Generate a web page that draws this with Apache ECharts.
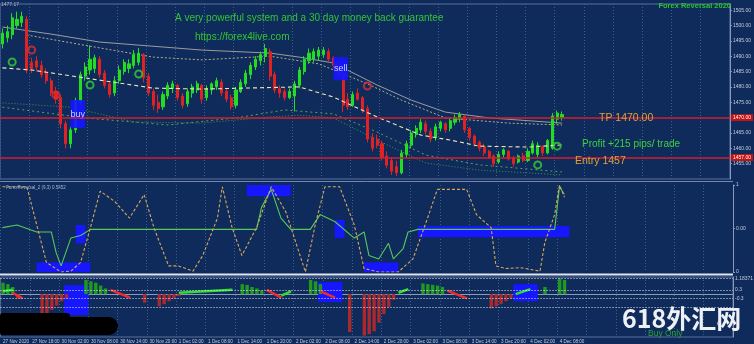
<!DOCTYPE html>
<html><head><meta charset="utf-8">
<script src="https://cdn.jsdelivr.net/npm/echarts@6/dist/echarts.min.js"></script>
<style>html,body{margin:0;padding:0;background:#0e2b5c}#c{width:754px;height:344px}</style>
</head><body><div id="c"></div>
<script>
// ---- price bars: [open, close, low, high] ----
const ohlc = [
[1494.0,1497.5,1492.5,1499.0],[1496.0,1498.0,1494.5,1500.0],[1497.0,1502.5,1495.5,1504.0],[1500.0,1502.0,1499.0,1504.5],
[1501.0,1503.0,1499.5,1504.5],[1502.0,1485.5,1484.5,1503.0],[1488.0,1486.0,1484.5,1489.5],[1488.5,1486.5,1485.0,1490.0],
[1487.0,1484.0,1483.0,1488.5],[1484.5,1482.0,1481.0,1486.0],[1482.0,1478.0,1477.0,1483.0],[1478.5,1476.0,1474.5,1480.0],
[1476.5,1468.0,1466.5,1477.5],[1468.0,1461.5,1460.0,1469.0],[1461.5,1466.0,1460.0,1467.0],[1466.0,1475.5,1465.0,1476.5],
[1475.0,1484.0,1474.0,1485.0],[1483.5,1486.5,1482.0,1488.0],[1485.5,1489.0,1484.0,1493.5],[1486.0,1489.5,1484.5,1490.5],
[1489.0,1484.0,1483.0,1490.0],[1484.5,1480.5,1479.5,1485.5],[1481.0,1477.5,1476.5,1482.0],[1478.0,1482.0,1477.0,1483.5],
[1482.0,1485.5,1481.0,1487.0],[1485.0,1488.0,1484.0,1489.0],[1486.0,1487.5,1484.5,1489.0],[1487.0,1490.5,1486.0,1492.0],
[1488.0,1491.0,1487.0,1492.7],[1490.5,1483.0,1481.5,1491.0],[1483.5,1478.0,1477.0,1484.5],[1478.5,1474.0,1472.5,1479.5],
[1475.0,1473.0,1471.5,1477.5],[1473.5,1477.5,1472.5,1478.5],[1477.0,1480.5,1476.0,1481.5],[1479.5,1481.0,1478.0,1482.0],
[1480.5,1476.5,1475.5,1481.0],[1477.0,1474.0,1473.0,1478.0],[1474.5,1478.5,1473.5,1479.5],[1478.0,1480.0,1476.5,1481.0],
[1479.0,1481.0,1478.0,1482.0],[1480.5,1476.0,1474.5,1481.0],[1476.5,1479.5,1475.5,1480.5],[1479.0,1481.0,1477.5,1481.5],
[1480.0,1482.0,1479.0,1483.0],[1481.5,1478.0,1477.0,1482.5],[1478.5,1476.0,1475.0,1479.5],[1476.5,1473.5,1472.5,1477.5],
[1474.0,1479.0,1473.0,1480.0],[1478.5,1481.5,1478.0,1482.5],[1481.0,1484.5,1480.0,1485.5],[1484.0,1487.0,1482.5,1488.0],
[1486.5,1489.0,1485.5,1490.0],[1488.5,1490.5,1487.0,1491.5],[1490.0,1492.5,1488.0,1494.0],[1491.5,1483.5,1482.0,1492.5],
[1484.0,1479.0,1478.0,1485.0],[1479.5,1478.0,1476.5,1480.5],[1478.5,1476.5,1475.5,1479.5],[1476.5,1478.5,1476.0,1479.5],
[1477.0,1481.0,1472.0,1482.0],[1480.5,1485.5,1479.5,1486.5],[1485.0,1489.0,1484.0,1490.0],[1488.5,1491.0,1487.5,1492.5],
[1489.0,1491.5,1488.0,1492.5],[1490.0,1492.0,1488.5,1493.0],[1490.5,1492.0,1489.5,1493.0],[1491.5,1489.0,1488.0,1492.5],
[1489.5,1487.0,1486.0,1490.0],[1487.5,1484.0,1482.5,1488.5],[1484.5,1474.0,1471.8,1485.0],[1476.0,1473.5,1472.5,1478.0],
[1474.0,1477.5,1473.5,1478.5],[1478.0,1476.0,1475.5,1479.5],[1476.5,1472.5,1471.5,1477.0],[1473.0,1463.0,1462.0,1474.0],
[1463.5,1460.0,1459.0,1465.0],[1463.0,1461.0,1460.0,1464.5],[1461.5,1457.0,1456.0,1462.5],[1457.5,1454.5,1453.5,1459.0],
[1456.0,1452.5,1451.3,1457.0],[1454.0,1452.0,1451.0,1456.0],[1452.0,1458.5,1451.5,1459.5],[1458.0,1461.5,1457.0,1462.5],
[1461.0,1465.0,1460.0,1466.0],[1464.5,1466.5,1463.5,1467.5],[1466.0,1468.5,1465.0,1469.5],[1468.0,1465.5,1464.5,1469.0],
[1465.5,1463.0,1462.0,1466.5],[1463.5,1467.0,1462.5,1468.0],[1466.5,1468.5,1465.5,1469.0],[1468.0,1466.0,1465.0,1468.5],
[1466.5,1469.0,1465.5,1470.0],[1468.5,1470.0,1467.5,1471.0],[1469.5,1471.0,1468.5,1471.8],[1470.5,1466.0,1465.0,1471.0],
[1466.5,1463.5,1462.5,1467.0],[1464.0,1461.5,1460.5,1464.5],[1462.0,1460.0,1459.0,1462.5],[1460.5,1458.5,1457.5,1461.5],
[1459.0,1457.0,1456.5,1459.5],[1457.5,1455.0,1454.0,1458.0],[1455.5,1458.0,1455.0,1459.0],[1458.0,1459.5,1457.0,1460.0],
[1459.0,1456.5,1456.0,1459.5],[1457.0,1455.0,1454.0,1457.5],[1455.5,1457.5,1455.0,1458.0],[1457.5,1456.0,1455.5,1458.5],
[1456.0,1459.0,1455.5,1460.0],[1458.5,1461.5,1458.0,1462.5],[1458.0,1461.0,1457.0,1462.0],[1460.5,1458.5,1457.5,1461.0],
[1458.5,1462.5,1458.0,1463.0],[1460.0,1470.5,1459.5,1471.5],[1469.5,1471.5,1468.0,1472.3],[1470.0,1471.0,1469.0,1472.0]
];
// moving-average style lines: [barIndex, price]
const maGrey1 = [[0,1499.5],[10,1497.2],[20,1494.6],[41,1492.0],[55,1491.0],[61,1489.7],[68,1487.8],[77,1480.6],[84,1475.7],[91,1471.8],[100,1469.9],[115,1468.2]];
const maGrey2 = [[5,1496.9],[20,1492.7],[31,1489.7],[41,1488.8],[55,1490.0],[65,1487.5],[75,1481.0],[82,1475.7],[91,1469.9],[104,1468.2],[115,1467.6]];
const maMid   = [[0,1486.2],[6,1485.5],[17,1482.9],[31,1479.6],[41,1479.3],[61,1480.0],[68,1476.7],[77,1470.2],[86,1464.3],[92,1462.7],[98,1460.7],[108,1460.4],[115,1461.1]];
const maLow1  = [[0,1474.8],[14,1473.4],[27,1468.6],[41,1468.2],[55,1470.2],[61,1470.8],[68,1469.9],[77,1462.7],[87,1455.2],[98,1452.9],[108,1452.0],[115,1451.3]];
const maLow2  = [[0,1473.4],[17,1469.9],[34,1467.6],[48,1469.9],[58,1472.5],[68,1471.2],[77,1465.3],[87,1457.8],[98,1454.6],[115,1452.3]];
const greenCircles = [[2,1488.1],[18,1480.6],[28,1484.2],[110,1454.6],[114,1460.7]];
const redCircles = [[6,1492.0],[11,1477.4],[75,1480.3]];
const tpPrice = 1470, entryPrice = 1457;
const signalBoxes = [['buy',14,1475.7,17,1466.6],['sell',68,1489.7,71,1482.2]];
// oscillator pane
const oscOrange = [[0,0.98],[5,0.98],[9,0.11],[12,0],[14,0.01],[16,0.11],[18,0.51],[20,0.93],[23,0.81],[26,0.62],[29,0.89],[31,0.51],[34,0.07],[36,0.07],[39,0.01],[41,0.19],[44,0.62],[45,0.98],[47,0.51],[49,0.19],[52,0.51],[55,0.98],[58,0.69],[62,0],[64,0.54],[66,0.98],[69,0.98],[72,0.54],[74,0.04],[77,0],[81,0],[84,0.15],[87,0.62],[89,0.95],[93,0.95],[95,0.95],[97,0.66],[100,0.51],[101,0.07],[103,0.04],[106,0.05],[110,0.01],[111,0.34],[113,0.66],[114,1.0],[115,0.86]];
const oscGreen = [[0,0.51],[3,0.54],[7,0.46],[10,0.46],[11,0.22],[12,0.07],[14,0.39],[16,0.42],[18,0.49],[52,0.49],[53,0.74],[55,0.95],[57,0.62],[59,0.49],[63,0.49],[65,0.66],[68,0.58],[72,0.39],[74,0.46],[75,0.19],[77,0.15],[79,0.33],[80,0.15],[82,0.27],[83,0.46],[85,0.49],[113,0.49],[114,0.98],[115,0.89]];
const oscBoxes = [[7,0.11,18,0],[15,0.54,17,0.33],[50,1.0,59,0.87],[68,0.6,70,0.39],[74,0.11,81,0],[85,0.53,116,0.40]];
// histogram pane
const hist = [[0,0.8],[1,0.7],[2,0.5],[3,-0.3],[8,-1.6],[9,-1.4],[10,-1.1],[11,-0.8],[12,-0.5],[13,-0.3],
[17,1.0],[18,0.9],[19,0.8],[20,0.6],[21,0.4],[29,-0.6],[32,-0.85],[33,-0.7],[34,-0.5],[35,-0.3],[36,-0.15],
[49,0.7],[50,0.65],[51,0.5],[52,0.4],[53,0.25],[63,1.0],[64,0.9],[65,0.7],[71,-2.65],
[74,-2.9],[75,-2.8],[76,-2.6],[77,-2.0],[78,-1.4],[79,-0.9],[80,-0.4],[86,0.75],[87,0.7],[88,0.65],[89,0.6],[90,0.5],
[100,-1.0],[101,-0.85],[102,-0.7],[103,-0.5],[104,-0.3],[111,0.5],[114,1.1],[115,1.0]];
const greenSegs = [[[0,0.2],[2,0.3]],[[36,0.1],[47,0.3]],[[57,-0.1],[59,0.2]],[[81,0.1],[83,0.35]],[[105,0.0],[108,0.35]]];
const redSegs = [[[2,0.1],[4,-0.3]],[[22,0.3],[26,-0.25]],[[54,0.3],[57,-0.25]],[[65,0.2],[68,-0.25]],[[91,0.25],[95,-0.3]]];
const histBoxes = [[13,0.63,17,-1.47],[65,0.84,69,-0.56],[105,0.7,109,-0.5]];
const histLevels = [[1.1,'1.18371',true],[0.3,'0.3',true],[0,'0.00',false],[-0.3,'-0.3',true],[-0.95,'',true],[-2.95,'-1.13529',false]];
// axis tick labels
const timeLabels = ['27 Nov 2020','27 Nov 18:00','30 Nov 02:00','30 Nov 08:00','30 Nov 14:00','30 Nov 20:00','1 Dec 02:00','1 Dec 08:00','1 Dec 14:00','1 Dec 20:00','2 Dec 02:00','2 Dec 08:00','2 Dec 14:00','2 Dec 20:00','3 Dec 02:00','3 Dec 08:00','3 Dec 14:00','3 Dec 20:00','4 Dec 02:00','4 Dec 08:00'];
const nCats = 150;
const categories = Array.from({length:nCats},(_,i)=>String(i));

const BG='#0e2b5c', GRIDC='#3f5d8f', TXT='#c4ccdc';
const chart = echarts.init(document.getElementById('c'), null, {renderer:'canvas'});

function xAx(gi, showLabels){
  return {type:'category', gridIndex:gi, data:categories, boundaryGap:true,
    axisLine:{show:showLabels, lineStyle:{color:'#8a9ab8'}}, axisTick:{show:false},
    axisLabel:{show:showLabels, interval:0, fontSize:4.6, color:TXT, align:'left', margin:2,
      formatter:(v,i)=> (i%6===0 && timeLabels[i/6]) ? timeLabels[i/6] : ''},
    splitLine:{show:true, interval:(i)=>i%6===0, lineStyle:{color:GRIDC, type:[1,2], width:1}}};
}
function boxArea(list, color){
  return {silent:true, itemStyle:{color:color, opacity:1}, label:{show:false},
    data:list.map(b=>[{xAxis:b[0],yAxis:b[1]},{xAxis:b[2],yAxis:b[3]}])};
}
const series = [];
series.push({type:'candlestick', xAxisIndex:0, yAxisIndex:0, data:ohlc, barWidth:2.6, z:2,
  itemStyle:{color:'#22dd22', color0:'#e02222', borderColor:'#22dd22', borderColor0:'#e02222', borderWidth:1},
  markLine:{symbol:'none', silent:true, lineStyle:{color:'#d0202e', width:1.5, type:'solid'},
    label:{show:true, position:'end', distance:1, fontSize:5, color:'#fff', backgroundColor:'#c01414', padding:[1,2]},
    data:[{yAxis:tpPrice, label:{formatter:tpPrice.toFixed(2)}},{yAxis:entryPrice, label:{formatter:entryPrice.toFixed(2)}}]}
});
const ln=(data,color,type,w,z)=>({type:'line', xAxisIndex:0, yAxisIndex:0, data, symbol:'none', silent:true, z:z||1,
  lineStyle:{color, type, width:w}});
series.push(ln(maGrey1,'#9c9c9c','solid',1));
series.push(ln(maGrey2,'#b7ad86',[2,2],1));
series.push(ln(maMid,'#efe6b4',[4,3],1.1,3));
series.push(ln(maLow1,'#3c9a3c',[1,2],1));
series.push(ln(maLow2,'#5aa45a',[2,3],1));
// buy / sell signal boxes (drawn over the bars)
series.push({type:'line', xAxisIndex:0, yAxisIndex:0, data:[], symbol:'none', z:4,
  markArea:{silent:true, z:4, itemStyle:{color:'#1616ff', opacity:0.92},
    label:{show:true, position:'inside', color:'#c4d6ff', fontSize:9, fontFamily:'Liberation Sans'},
    data:signalBoxes.map(b=>[{name:b[0],xAxis:b[1],yAxis:b[2]},{xAxis:b[3],yAxis:b[4]}])}});
series.push({type:'scatter', xAxisIndex:0, yAxisIndex:0, data:greenCircles, symbol:'circle', symbolSize:7, z:5,
  itemStyle:{color:'rgba(0,0,0,0)', borderColor:'#35d035', borderWidth:2}});
series.push({type:'scatter', xAxisIndex:0, yAxisIndex:0, data:redCircles, symbol:'circle', symbolSize:7, z:5,
  itemStyle:{color:'rgba(0,0,0,0)', borderColor:'#e03030', borderWidth:2}});
// pane 2
series.push({type:'line', xAxisIndex:1, yAxisIndex:1, data:oscGreen, symbol:'none', z:2,
  lineStyle:{color:'#58c858', width:1.1}, markArea:boxArea(oscBoxes,'#1616ff')});
series.push({type:'line', xAxisIndex:1, yAxisIndex:1, data:oscOrange, symbol:'none', z:3,
  lineStyle:{color:'#d8a85a', width:1.1, type:[3,2]}});
// pane 3
series.push({type:'bar', xAxisIndex:2, yAxisIndex:2, data:hist, barWidth:3.4, z:2,
  itemStyle:{color:(p)=> p.value[1]<0 ? '#a82a2e' : '#1f9a1f'},
  markArea:boxArea(histBoxes,'#1616ff'),
  markLine:{symbol:'none', silent:true, lineStyle:{color:'#e8ecf4', type:[1,2], width:1},
    label:{show:true, position:'end', distance:2, fontSize:5, color:TXT},
    data:histLevels.map(l=>({yAxis:l[0], label:{formatter:l[1]}, lineStyle:{opacity:l[2]?1:0}}))}});
greenSegs.forEach(s=>series.push({type:'line', xAxisIndex:2, yAxisIndex:2, data:s, symbol:'none', z:4, lineStyle:{color:'#2fe02f', width:2.5}}));
redSegs.forEach(s=>series.push({type:'line', xAxisIndex:2, yAxisIndex:2, data:s, symbol:'none', z:4, lineStyle:{color:'#ee2a2a', width:2.5}}));

const T=(x,y,text,fill,size,extra)=>Object.assign({type:'text', x, y, z:100, silent:true,
  style:Object.assign({text, fill, fontSize:size, fontFamily:'Liberation Sans', textVerticalAlign:'middle'}, extra||{})});

const option = {
  backgroundColor:BG, animation:false,
  grid:[
    {left:0,right:21,top:4,height:175,show:true,borderColor:'#5d709a',borderWidth:1},
    {left:0,right:21,top:185,height:87,show:false},
    {left:0,right:21,top:277,height:60,show:true,borderColor:'#5d709a',borderWidth:1}
  ],
  xAxis:[xAx(0,false), xAx(1,false), xAx(2,true)],
  yAxis:[
    {type:'value', gridIndex:0, position:'right', min:1450, max:1507, interval:5, scale:true,
      axisLine:{show:true, lineStyle:{color:'#8a9ab8'}}, axisTick:{show:true, length:2, lineStyle:{color:'#8a9ab8'}},
      axisLabel:{fontSize:5, color:TXT, margin:3, showMinLabel:false, showMaxLabel:false, formatter:v=>v.toFixed(2)},
      splitLine:{show:false}},
    {type:'value', gridIndex:1, position:'right', min:0, max:1, interval:0.5,
      axisLine:{show:true, lineStyle:{color:'#8a9ab8'}}, axisTick:{show:true, length:2},
      axisLabel:{fontSize:5, color:TXT, margin:3, formatter:v=> v===0?'0':(v===1?'1':'0.00')}, splitLine:{show:false}},
    {type:'value', gridIndex:2, position:'right', min:-3, max:1.2,
      axisLine:{show:true, lineStyle:{color:'#8a9ab8'}}, axisTick:{show:false}, axisLabel:{show:false}, splitLine:{show:false}}
  ],
  series,
  graphic:[
    {type:'line', z:90, silent:true, shape:{x1:0,y1:181.5,x2:733,y2:181.5}, style:{stroke:'#7486ac', lineWidth:1}},
    {type:'line', z:90, silent:true, shape:{x1:0,y1:274.5,x2:733,y2:274.5}, style:{stroke:'#dfe6f2', lineWidth:2}},
    T(175,18,'A very powerful system and a 30 day money back guarantee','#33c633',10),
    T(195,37,'https://forex4live.com','#33c633',10),
    T(731,6,'Forex Reversal 2020','#27c427',7.5,{textAlign:'right', fontWeight:'bold'}),
    T(1,5,'1477.17','#aab4c8',5),
    T(6,188,'ForexReversal_2 (9,3) 0.5452','#aab4c8',4.5),
    T(599,118,'TP 1470.00','#e3a03a',10.5),
    T(582,144,'Profit +215 pips/ trade','#3ed03e',10),
    T(575,161,'Entry 1457','#e3a03a',10.5),
    T(648,334,'Buy Only','#2fa02f',8.5),
    T(717,324,'0.','#d0d8e8',8),
    {type:'rect', z:95, silent:true, shape:{x:0,y:317,width:118,height:18,r:[4,9,9,2]}, style:{fill:'#000'}},
    {type:'rect', z:95, silent:true, shape:{x:0,y:313,width:70,height:8,r:3}, style:{fill:'#000'}},
    {type:'text', z:101, silent:true, x:622, y:318, style:{text:'618外汇网', fill:'#eef0f4', fontSize:25, fontWeight:'bold',
      fontFamily:'"Noto Sans CJK SC"', textVerticalAlign:'middle'}}
  ]
};
chart.setOption(option);
</script></body></html>
